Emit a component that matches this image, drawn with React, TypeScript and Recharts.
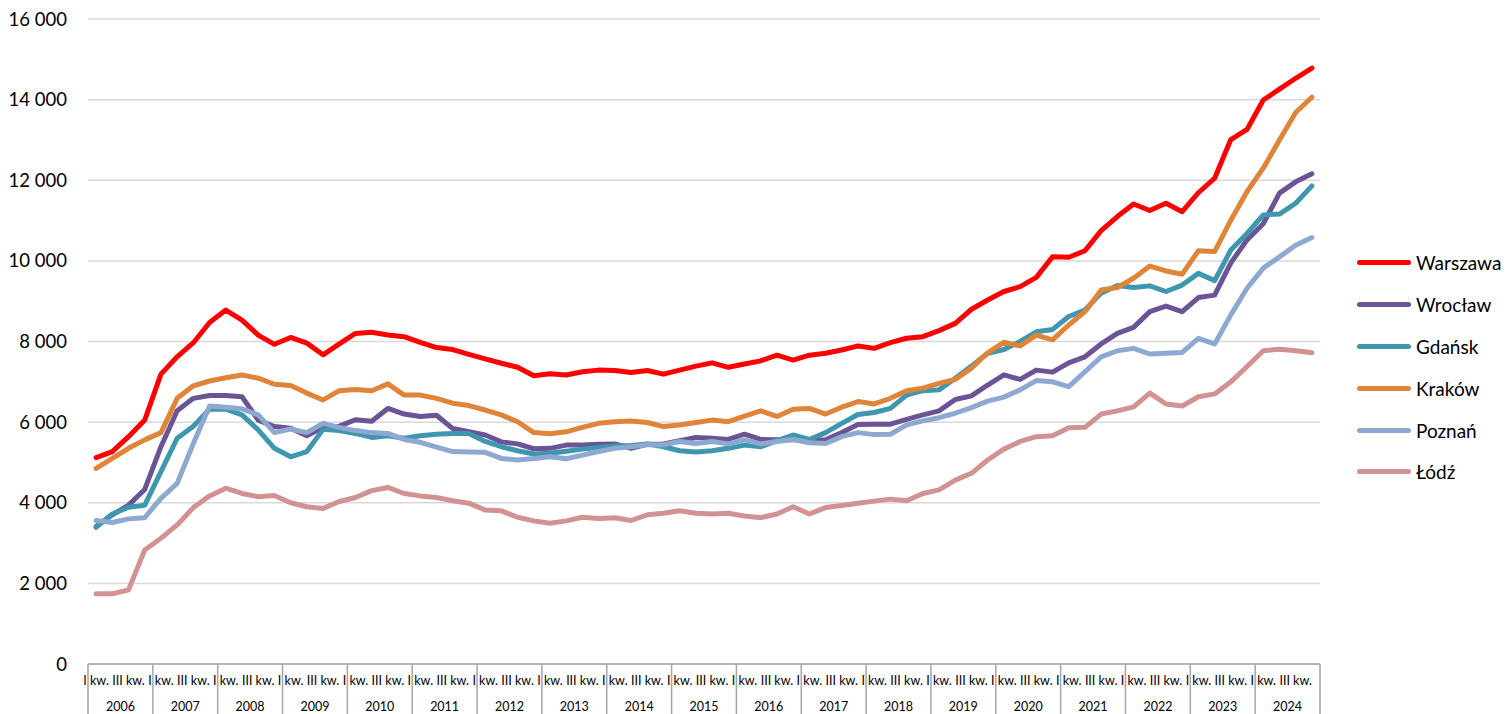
import React from 'react';
import { LineChart, Line, XAxis, YAxis, CartesianGrid } from 'recharts';

// quarterly averages 2006 Q1 - 2024 Q4
const years = [2006, 2007, 2008, 2009, 2010, 2011, 2012, 2013, 2014, 2015, 2016, 2017, 2018, 2019, 2020, 2021, 2022, 2023, 2024];
const quarterLabels = ['I kw.', '', 'III kw.', ''];
const yTicks = [0, 2000, 4000, 6000, 8000, 10000, 12000, 14000, 16000];

const warszawa = [5120, 5270, 5640, 6050, 7190, 7620, 7970, 8470, 8780, 8530, 8160, 7930, 8100, 7960, 7670, 7940, 8200, 8230, 8160, 8120, 7980, 7850, 7800, 7680, 7570, 7460, 7360, 7150, 7200, 7170, 7250, 7290, 7280, 7230, 7280, 7190, 7290, 7390, 7470, 7360, 7440, 7520, 7660, 7540, 7660, 7710, 7790, 7890, 7830, 7970, 8080, 8120, 8270, 8450, 8800, 9030, 9240, 9360, 9590, 10100, 10090, 10250, 10750, 11100, 11410, 11250, 11430, 11220, 11690, 12050, 13010, 13260, 13990, 14260, 14530, 14780];
const wroclaw = [3410, 3700, 3940, 4330, 5390, 6280, 6590, 6660, 6660, 6630, 6050, 5890, 5850, 5660, 5870, 5900, 6060, 6020, 6340, 6200, 6140, 6170, 5840, 5760, 5680, 5510, 5460, 5340, 5350, 5430, 5430, 5450, 5460, 5350, 5450, 5460, 5540, 5620, 5600, 5570, 5700, 5570, 5560, 5570, 5540, 5560, 5740, 5940, 5950, 5950, 6070, 6180, 6280, 6560, 6650, 6920, 7170, 7060, 7290, 7240, 7470, 7620, 7940, 8200, 8350, 8740, 8880, 8740, 9090, 9150, 9950, 10520, 10920, 11680, 11960, 12160];
const gdansk = [3390, 3720, 3890, 3940, 4770, 5600, 5900, 6320, 6320, 6180, 5810, 5350, 5140, 5270, 5820, 5790, 5720, 5620, 5660, 5600, 5660, 5700, 5720, 5720, 5520, 5390, 5290, 5210, 5230, 5280, 5330, 5370, 5410, 5420, 5460, 5390, 5290, 5260, 5290, 5350, 5430, 5390, 5540, 5680, 5570, 5740, 5970, 6190, 6240, 6340, 6670, 6780, 6800, 7090, 7390, 7710, 7800, 8000, 8240, 8300, 8620, 8780, 9200, 9390, 9340, 9380, 9240, 9400, 9690, 9510, 10270, 10680, 11140, 11160, 11430, 11860];
const krakow = [4850, 5100, 5350, 5560, 5740, 6590, 6900, 7020, 7100, 7170, 7090, 6940, 6910, 6720, 6550, 6780, 6810, 6780, 6950, 6670, 6670, 6590, 6470, 6410, 6300, 6180, 6010, 5740, 5710, 5760, 5870, 5970, 6010, 6030, 5990, 5890, 5930, 5990, 6050, 6010, 6150, 6280, 6140, 6320, 6340, 6200, 6370, 6510, 6450, 6590, 6780, 6840, 6960, 7060, 7340, 7720, 7980, 7890, 8160, 8040, 8410, 8740, 9280, 9340, 9570, 9870, 9750, 9670, 10250, 10230, 11010, 11720, 12300, 13000, 13680, 14060];
const poznan = [3560, 3510, 3600, 3630, 4110, 4480, 5470, 6400, 6370, 6330, 6180, 5740, 5830, 5740, 5970, 5870, 5790, 5740, 5720, 5570, 5500, 5380, 5270, 5260, 5250, 5100, 5060, 5100, 5140, 5090, 5180, 5270, 5350, 5390, 5440, 5440, 5520, 5470, 5520, 5460, 5560, 5460, 5520, 5570, 5490, 5470, 5640, 5740, 5690, 5700, 5930, 6030, 6110, 6220, 6360, 6520, 6620, 6800, 7030, 7000, 6880, 7250, 7620, 7770, 7830, 7690, 7710, 7730, 8080, 7940, 8660, 9320, 9820, 10100, 10390, 10580];
const lodz = [1740, 1740, 1840, 2830, 3120, 3450, 3880, 4170, 4360, 4230, 4150, 4180, 4000, 3900, 3860, 4030, 4130, 4300, 4380, 4230, 4170, 4130, 4050, 3990, 3820, 3800, 3640, 3550, 3490, 3550, 3640, 3610, 3630, 3560, 3700, 3740, 3800, 3740, 3720, 3740, 3670, 3630, 3720, 3900, 3720, 3880, 3930, 3990, 4040, 4090, 4050, 4230, 4320, 4560, 4730, 5060, 5330, 5520, 5640, 5660, 5860, 5870, 6200, 6280, 6380, 6720, 6450, 6400, 6630, 6700, 7000, 7380, 7770, 7810, 7770, 7720];

const series = [
  { key: 'warszawa', name: 'Warszawa', color: '#FF0000', values: warszawa },
  { key: 'wroclaw', name: 'Wrocław', color: '#6B5495', values: wroclaw },
  { key: 'gdansk', name: 'Gdańsk', color: '#3E97AE', values: gdansk },
  { key: 'krakow', name: 'Kraków', color: '#DF8439', values: krakow },
  { key: 'poznan', name: 'Poznań', color: '#8EA9D1', values: poznan },
  { key: 'lodz', name: 'Łódź', color: '#D39292', values: lodz },
];

const data = warszawa.map((_, i) => {
  const row: any = { i };
  series.forEach((s) => (row[s.key] = s.values[i]));
  return row;
});

// ticks: year boundaries (x.5 before each year), quarter labels, year label in the middle
const xTicks: number[] = [];
years.forEach((_, k) => {
  xTicks.push(4 * k - 0.5, 4 * k, 4 * k + 1.5, 4 * k + 2);
});
xTicks.push(years.length * 4 - 0.5);

const FONT = 'Lato, "Open Sans", sans-serif';
const AXIS_GRAY = '#a6a6a6';

const fmt = (v: number) => String(v).replace(/\B(?=(\d{3})+(?!\d))/g, ' ');

const XTick = (props: any) => {
  const { x, y, payload } = props;
  const v = payload.value as number;
  const m = ((v % 4) + 4) % 4;
  if (m === 3.5) {
    return <line x1={x} x2={x} y1={y} y2={y + 50} stroke={AXIS_GRAY} strokeWidth={1.5} />;
  }
  if (m === 1.5) {
    const year = years[Math.floor(v / 4)];
    return (
      <text x={x} y={y + 47} textAnchor="middle" fontSize={12.5} fontFamily={FONT} fill="#000">
        {year}
      </text>
    );
  }
  return (
    <text x={x} y={y + 21} textAnchor="middle" fontSize={12.5} fontFamily={FONT} fill="#000">
      {quarterLabels[m]}
    </text>
  );
};

export default function App() {
  return (
    <div style={{ position: 'absolute', left: 0, top: 0, width: 1506, height: 714, background: '#fff' }}>
      <LineChart width={1506} height={714} data={data} margin={{ top: 19, right: 186, bottom: 0, left: 0 }}>
        <CartesianGrid vertical={false} stroke="#d9d9d9" strokeWidth={1.5} />
        <XAxis
          dataKey="i"
          type="number"
          domain={[-0.5, 75.5]}
          ticks={xTicks}
          interval={0}
          tickLine={false}
          tickSize={0}
          tickMargin={0}
          height={50}
          axisLine={{ stroke: AXIS_GRAY, strokeWidth: 1.5 }}
          tick={<XTick />}
        />
        <YAxis
          width={88}
          domain={[0, 16000]}
          ticks={yTicks}
          interval={0}
          axisLine={false}
          tickLine={false}
          tickMargin={15}
          tickFormatter={fmt}
          tick={{ fontSize: 18.5, fontFamily: FONT, fill: '#000' }}
        />
        {series.map((s) => (
          <Line
            key={s.key}
            type="linear"
            dataKey={s.key}
            name={s.name}
            stroke={s.color}
            strokeWidth={5}
            dot={false}
            strokeLinecap="round"
            strokeLinejoin="round"
            isAnimationActive={false}
          />
        ))}
      </LineChart>
      <div style={{ position: 'absolute', left: 1357, top: 242, fontFamily: FONT, fontSize: 19 }}>
        {series.map((s) => (
          <div key={s.key} style={{ display: 'flex', alignItems: 'center', height: 41.8 }}>
            <div style={{ width: 54, height: 5, borderRadius: 3, background: s.color, marginRight: 5 }} />
            <span>{s.name}</span>
          </div>
        ))}
      </div>
    </div>
  );
}
